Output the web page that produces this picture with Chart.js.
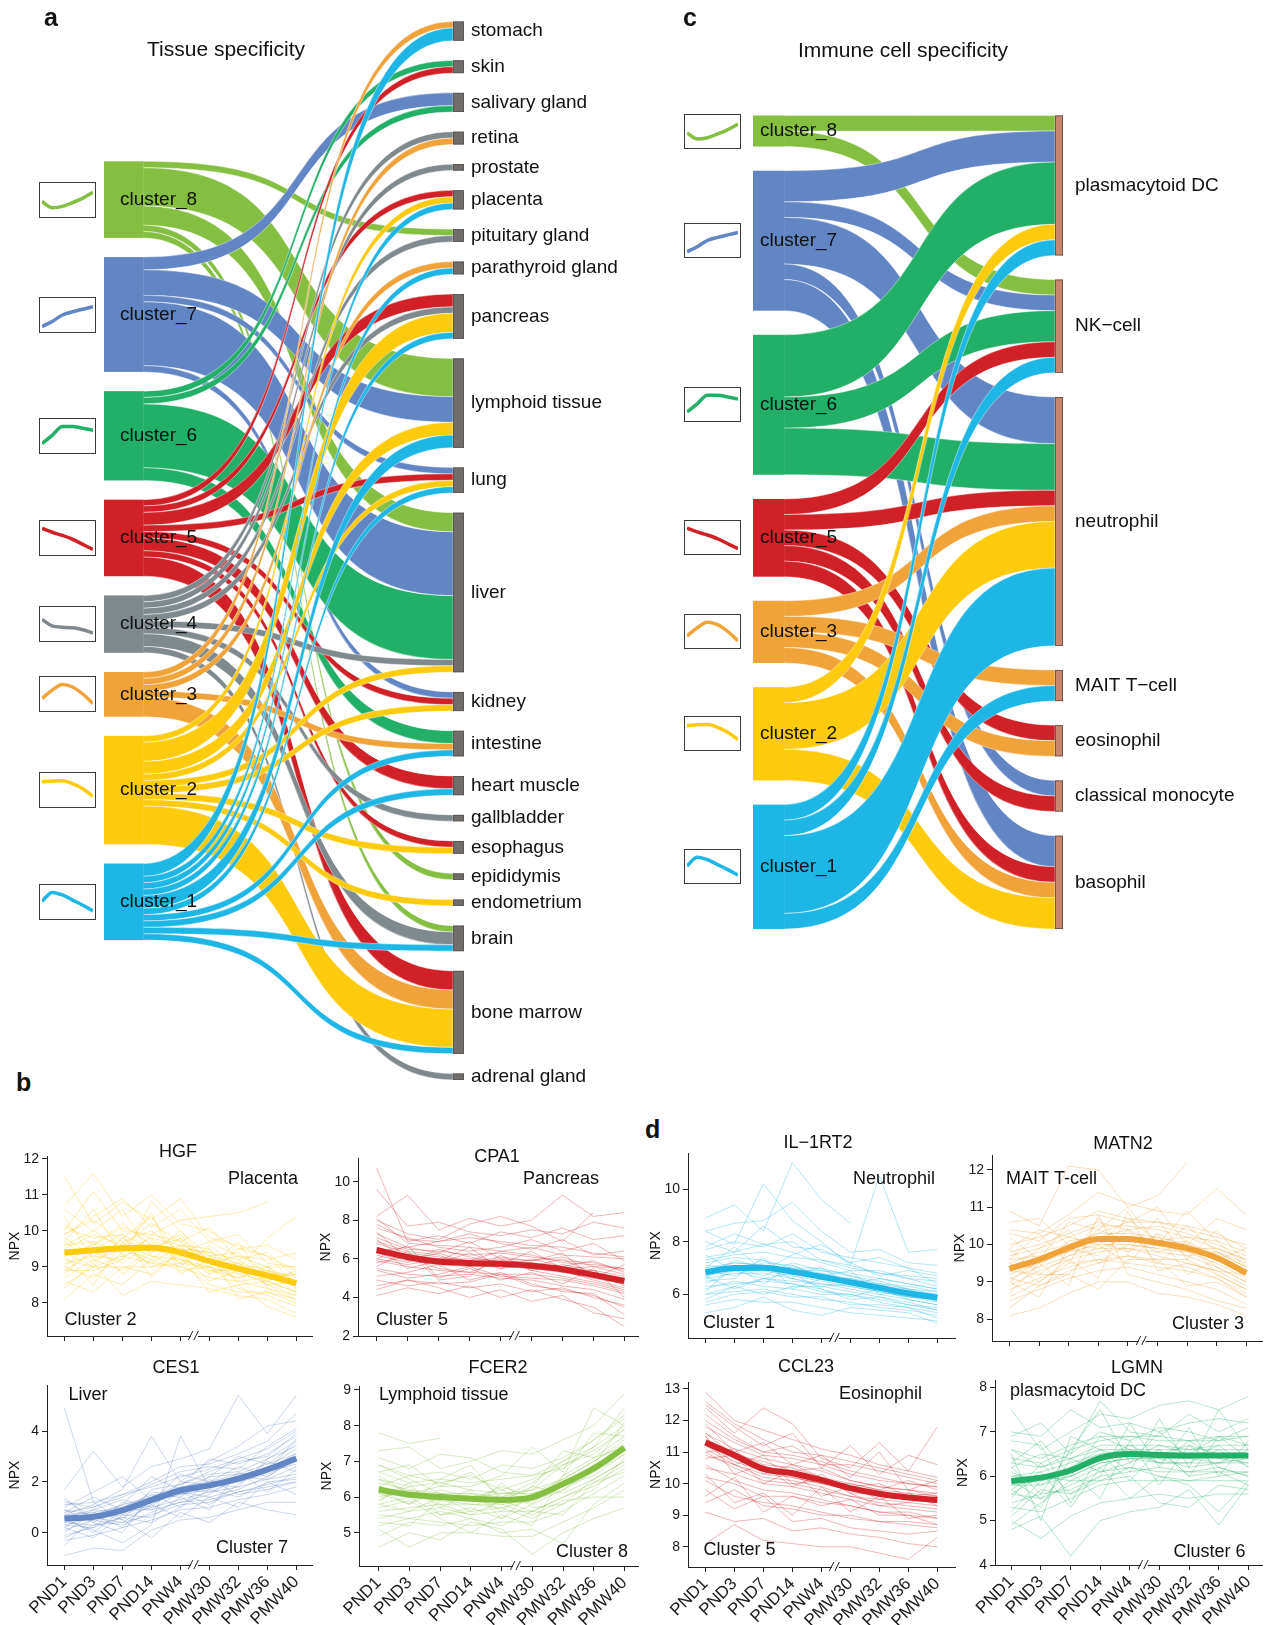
<!DOCTYPE html>
<html>
<head>
<meta charset="utf-8">
<script src="https://cdn.jsdelivr.net/npm/chart.js@4.4.1/dist/chart.umd.min.js"></script>
<style>
  body { margin: 0; background: #fff; }
  #page { position: relative; width: 1266px; height: 1625px; overflow: hidden; background: #fff;
          font-family: 'Liberation Sans', Arial, Helvetica, sans-serif; color: #111; }
  .holder { position: absolute; }
  .letter { position: absolute; font-weight: bold; font-size: 25px; line-height: 25px; }
  .icon { position: absolute; border: 1px solid #3a3a3a; box-sizing: border-box; background: #fff; }
  canvas { display: block; }
</style>
</head>
<body>
<div id="page">
  <div class="letter" style="left:16px;top:1070px;">b</div>
  <div class="letter" style="left:645px;top:1117px;">d</div>
</div>
<script>
// ---------- shared categories ----------
const timeLabels = ['PND1', 'PND3', 'PND7', 'PND14', 'PNW4', 'PMW30', 'PMW32', 'PMW36', 'PMW40'];

const tissueClusters = ['cluster_8', 'cluster_7', 'cluster_6', 'cluster_5', 'cluster_4', 'cluster_3', 'cluster_2', 'cluster_1'];
const tissueNames = ['stomach', 'skin', 'salivary gland', 'retina', 'prostate', 'placenta', 'pituitary gland',
  'parathyroid gland', 'pancreas', 'lymphoid tissue', 'lung', 'liver', 'kidney', 'intestine', 'heart muscle',
  'gallbladder', 'esophagus', 'epididymis', 'endometrium', 'brain', 'bone marrow', 'adrenal gland'];

// number of cluster proteins enriched in each tissue
const tissueFlows = [
  ['cluster_8', 'pituitary gland', 1], ['cluster_8', 'lymphoid tissue', 6], ['cluster_8', 'liver', 3],
  ['cluster_8', 'epididymis', 1], ['cluster_8', 'brain', 1],
  ['cluster_7', 'salivary gland', 2], ['cluster_7', 'lymphoid tissue', 4], ['cluster_7', 'lung', 1],
  ['cluster_7', 'liver', 10], ['cluster_7', 'kidney', 1],
  ['cluster_6', 'skin', 1], ['cluster_6', 'salivary gland', 1], ['cluster_6', 'liver', 10], ['cluster_6', 'intestine', 2],
  ['cluster_5', 'skin', 1], ['cluster_5', 'placenta', 1], ['cluster_5', 'pancreas', 2], ['cluster_5', 'lung', 1],
  ['cluster_5', 'kidney', 1], ['cluster_5', 'heart muscle', 2], ['cluster_5', 'esophagus', 1], ['cluster_5', 'bone marrow', 3],
  ['cluster_4', 'retina', 1], ['cluster_4', 'prostate', 1], ['cluster_4', 'pituitary gland', 1], ['cluster_4', 'pancreas', 1],
  ['cluster_4', 'liver', 1], ['cluster_4', 'gallbladder', 1], ['cluster_4', 'brain', 2], ['cluster_4', 'adrenal gland', 1],
  ['cluster_3', 'stomach', 1], ['cluster_3', 'retina', 1], ['cluster_3', 'parathyroid gland', 1],
  ['cluster_3', 'intestine', 1], ['cluster_3', 'bone marrow', 3],
  ['cluster_2', 'placenta', 1], ['cluster_2', 'pancreas', 3], ['cluster_2', 'lymphoid tissue', 2], ['cluster_2', 'lung', 1],
  ['cluster_2', 'liver', 1], ['cluster_2', 'kidney', 1], ['cluster_2', 'esophagus', 1], ['cluster_2', 'endometrium', 1],
  ['cluster_2', 'bone marrow', 6],
  ['cluster_1', 'stomach', 2], ['cluster_1', 'placenta', 1], ['cluster_1', 'parathyroid gland', 1], ['cluster_1', 'pancreas', 1],
  ['cluster_1', 'lymphoid tissue', 2], ['cluster_1', 'lung', 1], ['cluster_1', 'intestine', 1], ['cluster_1', 'heart muscle', 1],
  ['cluster_1', 'brain', 1], ['cluster_1', 'bone marrow', 1]
];

const immuneClusters = ['cluster_8', 'cluster_7', 'cluster_6', 'cluster_5', 'cluster_3', 'cluster_2', 'cluster_1'];
const immuneCells = ['plasmacytoid DC', 'NK\u2212cell', 'neutrophil', 'MAIT T\u2212cell', 'eosinophil', 'classical monocyte', 'basophil'];

// number of cluster proteins enriched in each immune cell type
const immuneFlows = [
  ['cluster_8', 'plasmacytoid DC', 1], ['cluster_8', 'NK\u2212cell', 1],
  ['cluster_7', 'plasmacytoid DC', 2], ['cluster_7', 'NK\u2212cell', 1], ['cluster_7', 'neutrophil', 3],
  ['cluster_7', 'classical monocyte', 1], ['cluster_7', 'basophil', 2],
  ['cluster_6', 'plasmacytoid DC', 4], ['cluster_6', 'NK\u2212cell', 2], ['cluster_6', 'neutrophil', 3],
  ['cluster_5', 'NK\u2212cell', 1], ['cluster_5', 'neutrophil', 1], ['cluster_5', 'eosinophil', 1],
  ['cluster_5', 'classical monocyte', 1], ['cluster_5', 'basophil', 1],
  ['cluster_3', 'neutrophil', 1], ['cluster_3', 'MAIT T\u2212cell', 1], ['cluster_3', 'eosinophil', 1], ['cluster_3', 'basophil', 1],
  ['cluster_2', 'plasmacytoid DC', 1], ['cluster_2', 'neutrophil', 3], ['cluster_2', 'basophil', 2],
  ['cluster_1', 'plasmacytoid DC', 1], ['cluster_1', 'NK\u2212cell', 1], ['cluster_1', 'neutrophil', 5], ['cluster_1', 'MAIT T\u2212cell', 1]
];

// typical temporal profile of each cluster (relative level, 6 steps)
const trendCluster8 = [0.45, 0.26, 0.30, 0.42, 0.56, 0.74];
const trendCluster7 = [0.14, 0.30, 0.50, 0.60, 0.68, 0.76];
const trendCluster6 = [0.26, 0.52, 0.80, 0.80, 0.74, 0.68];
const trendCluster5 = [0.80, 0.68, 0.58, 0.46, 0.30, 0.14];
const trendCluster4 = [0.64, 0.44, 0.40, 0.38, 0.32, 0.22];
const trendCluster3 = [0.36, 0.62, 0.80, 0.72, 0.50, 0.20];
const trendCluster2 = [0.76, 0.78, 0.79, 0.70, 0.54, 0.30];
const trendCluster1 = [0.52, 0.80, 0.72, 0.56, 0.40, 0.22];
const clusterTrends = {
  cluster_8: trendCluster8, cluster_7: trendCluster7, cluster_6: trendCluster6, cluster_5: trendCluster5,
  cluster_4: trendCluster4, cluster_3: trendCluster3, cluster_2: trendCluster2, cluster_1: trendCluster1
};

// ---------- protein trajectories (NPX) ----------
const hgfMean = [9.40, 9.46, 9.52, 9.53, 9.40, 9.16, 8.95, 8.76, 8.55];
const hgfLines = [
  [11.5, 10.2, 10.8, 10.3, 10.9, 9.8, 9.6, 9.3, 8.9],
  [10.7, 11.6, 10.4, 11.0, 10.2, 10.0, 9.5, 9.6, 9.2],
  [9.9, 10.4, 10.9, 10.1, 10.6, 9.7, 9.9, 9.1, 9.0],
  [9.5, 9.9, 9.6, 10.2, 9.7, 10.1, 9.2, 9.4, 8.7],
  [9.2, 9.0, 9.8, 9.4, 10.0, 9.3, 9.4, 8.8, 8.8],
  [8.9, 9.4, 9.1, 9.7, 9.2, 8.9, 8.7, 9.0, 8.4],
  [8.6, 8.3, 9.0, 8.8, 9.4, 8.6, 8.9, 8.5, 8.2],
  [8.1, 8.8, 8.5, 9.2, 8.9, 9.0, 8.4, 8.2, 7.9],
  [10.2, 9.6, 10.1, 9.8, 9.1, 9.5, 8.8, 8.9, 8.6],
  [9.7, 10.6, 9.3, 9.1, 9.6, 8.8, 9.1, 8.6, 8.3],
  [9.0, 8.7, 9.4, 10.5, 8.8, 9.2, 8.6, 8.7, 8.5],
  [10.4, 9.2, 8.9, 9.5, 9.9, 9.0, 9.7, 8.4, 8.1],
  [8.4, 9.1, 8.2, 8.6, 8.5, 8.4, 8.2, 8.1, 7.7],
  [9.6, 10.0, 10.6, 9.3, 9.0, 9.6, 9.0, 9.8, 10.4],
  [10.0, 11.1, 10.0, 9.9, 10.3, 10.4, 10.5, 10.8, null],
  [9.3, 8.5, 9.7, 9.0, 9.3, 8.3, 8.5, 7.9, 7.6],
  [8.8, 9.5, 9.9, 8.7, 9.5, 9.4, 8.1, 8.3, 8.0],
  [9.8, 9.3, 9.2, 10.8, 10.0, 9.1, 9.3, 9.2, 9.4],
  [9.6, 9.7, 9.4, 9.8, 9.6, 9.3, 9.1, 8.9, 8.7],
  [9.1, 9.3, 9.6, 9.3, 9.2, 9.0, 8.8, 8.6, 8.3],
  [9.4, 9.0, 9.3, 9.6, 9.5, 9.4, 9.2, 8.7, 8.8],
  [10.1, 9.8, 9.9, 9.5, 9.8, 9.2, 9.0, 9.0, 8.6],
  [8.7, 9.2, 9.5, 9.1, 9.0, 8.7, 8.6, 8.4, 8.2],
  [9.9, 10.3, 9.7, 10.0, 9.4, 9.7, 9.3, 9.0, 9.0],
  [9.3, 9.6, 10.2, 9.6, 9.1, 9.0, 8.7, 8.9, 8.4],
  [8.9, 8.9, 9.2, 9.9, 9.7, 9.1, 9.1, 8.5, 8.6],
  [10.6, 10.0, 9.5, 9.2, 9.8, 8.9, 8.9, 8.8, 8.3],
  [9.0, 9.7, 8.8, 9.4, 9.6, 9.5, 8.5, 8.6, 8.9],
  [9.7, 9.1, 9.8, 10.4, 9.3, 8.8, 9.5, 9.3, 8.5],
  [8.5, 9.0, 9.0, 9.0, 9.1, 8.5, 8.3, 8.3, 8.1]
];

const cpa1Mean = [6.46, 6.10, 5.86, 5.78, 5.74, 5.64, 5.46, 5.17, 4.85];
const cpa1Lines = [
  [10.7, 6.9, 7.2, 6.8, 7.4, 7.1, 7.6, 7.0, 7.2],
  [8.2, 9.3, 7.5, 8.1, 7.7, 8.0, 9.3, 8.2, 8.4],
  [7.3, 6.6, 6.9, 7.3, 6.8, 6.5, 7.0, 6.2, 6.4],
  [6.8, 6.3, 6.1, 5.9, 6.4, 6.2, 5.8, 5.7, 5.5],
  [6.2, 5.8, 6.5, 6.1, 5.8, 5.6, 6.0, 5.2, 4.9],
  [5.8, 6.1, 5.5, 5.3, 5.9, 5.8, 5.3, 5.4, 4.6],
  [5.4, 5.0, 5.2, 5.6, 5.1, 5.0, 4.9, 4.6, 4.2],
  [4.9, 4.6, 4.8, 4.5, 4.7, 4.3, 4.5, 4.0, 3.6],
  [4.1, 4.5, 4.2, 4.6, 4.0, 4.4, 3.9, 3.5, 2.5],
  [7.6, 7.1, 6.6, 6.4, 6.6, 7.0, 6.4, 6.8, 5.9],
  [6.5, 5.5, 5.9, 6.6, 5.5, 6.0, 5.6, 5.9, 5.3],
  [5.6, 6.4, 4.9, 5.1, 6.2, 5.4, 5.1, 4.8, 4.4],
  [9.6, 7.7, 7.9, 7.4, 7.2, 7.5, 7.3, 7.9, 7.6],
  [5.1, 5.3, 5.7, 4.9, 5.3, 4.7, 4.3, 4.2, 3.1],
  [7.0, 5.9, 6.3, 6.9, 6.0, 5.9, 6.3, 5.0, 5.7],
  [6.0, 6.7, 5.0, 5.5, 4.9, 5.3, 4.7, 5.5, 4.0],
  [4.4, 4.9, 4.5, 4.0, 4.4, 3.8, 4.1, 3.2, 2.9],
  [8.0, 7.3, 7.0, 7.8, 8.2, 7.7, 6.9, 8.4, null],
  [6.6, 6.2, 6.0, 6.0, 5.9, 5.8, 5.6, 5.3, 5.0],
  [6.3, 5.9, 5.7, 5.6, 5.6, 5.5, 5.3, 5.0, 4.7],
  [7.1, 6.5, 6.4, 6.2, 6.3, 6.1, 5.9, 5.8, 5.4],
  [5.9, 5.6, 5.4, 5.3, 5.2, 5.2, 5.0, 4.7, 4.3],
  [8.1, 6.8, 6.7, 6.6, 6.4, 6.6, 6.2, 6.1, 6.0],
  [6.9, 6.4, 6.2, 5.6, 6.0, 5.4, 5.7, 5.4, 5.1],
  [5.5, 5.2, 5.1, 5.2, 5.0, 4.9, 4.6, 4.4, 3.9],
  [7.4, 6.0, 5.8, 6.3, 5.7, 6.4, 5.5, 5.6, 5.2],
  [6.0, 5.7, 6.0, 5.9, 5.5, 5.7, 5.4, 4.9, 4.5],
  [4.6, 4.9, 4.7, 4.8, 5.2, 4.6, 4.4, 4.1, 3.5],
  [7.8, 7.0, 6.9, 7.1, 6.9, 6.7, 6.6, 6.3, 6.1],
  [6.4, 6.6, 6.3, 5.8, 6.1, 5.9, 6.1, 5.6, 5.5]
];

const ces1Mean = [0.56, 0.63, 0.88, 1.28, 1.66, 1.86, 2.13, 2.48, 2.92];
const ces1Lines = [
  [4.9, 1.2, 1.5, 2.0, 2.6, 2.7, 3.1, 3.6, 4.7],
  [1.7, 3.2, 1.8, 2.6, 2.9, 3.3, 5.4, 3.9, 5.4],
  [1.2, 1.0, 1.5, 1.8, 2.2, 2.5, 2.9, 3.3, 4.0],
  [0.9, 0.7, 1.1, 1.4, 1.9, 2.3, 2.4, 2.9, 3.4],
  [0.6, 0.9, 0.8, 1.6, 1.5, 1.7, 2.2, 2.5, 3.1],
  [0.4, 0.3, 0.6, 1.0, 1.3, 1.6, 1.8, 2.1, 2.6],
  [0.1, 0.5, 0.3, 0.8, 1.2, 1.3, 1.6, 1.9, 2.2],
  [-0.3, -0.1, 0.2, 0.5, 0.9, 1.0, 1.3, 1.5, 1.8],
  [-0.9, -0.6, -0.7, 0.1, 0.5, 0.6, 0.9, 1.2, 1.2],
  [0.8, 1.4, 0.9, 1.2, 2.3, 2.0, 2.6, 2.2, 3.0],
  [0.3, 0.2, 1.2, 0.9, 1.6, 1.1, 1.9, 2.8, 2.4],
  [1.4, 0.4, 0.0, 1.5, 1.0, 2.1, 1.5, 1.7, 2.0],
  [0.0, 0.8, 0.5, -0.2, 0.8, 0.4, 1.2, 0.9, 0.7],
  [0.7, 1.1, 1.7, 3.8, 2.0, 2.8, 3.4, 4.2, 4.4],
  [0.5, 0.1, -0.4, 0.3, 3.8, 1.8, 2.0, 2.4, 3.7],
  [-0.5, 0.6, 0.4, 1.1, 0.6, 1.4, 1.0, 2.0, 1.5],
  [1.0, 1.6, 2.2, 1.3, 1.8, 2.9, 2.7, 3.1, 3.8],
  [0.2, -0.2, 0.7, 0.6, 1.4, 0.9, 2.4, 1.6, 2.5],
  [0.7, 0.8, 1.0, 1.4, 1.8, 2.0, 2.3, 2.7, 3.1],
  [0.5, 0.5, 0.8, 1.2, 1.5, 1.8, 2.0, 2.3, 2.8],
  [0.3, 0.6, 0.7, 1.1, 1.7, 1.6, 2.1, 2.6, 3.3],
  [0.9, 0.4, 1.0, 1.5, 1.4, 2.2, 2.3, 2.4, 2.7],
  [0.2, 0.9, 1.3, 1.0, 2.0, 1.9, 1.8, 2.9, 3.6],
  [1.1, 1.2, 0.5, 1.7, 1.9, 2.4, 2.8, 3.0, 3.9],
  [0.6, 0.0, 0.9, 0.9, 1.2, 1.5, 2.2, 2.1, 2.3],
  [-0.2, 0.3, 0.4, 0.7, 1.1, 1.2, 1.6, 1.8, 2.0],
  [0.8, 1.0, 1.4, 1.9, 2.4, 2.6, 2.5, 3.4, 4.1],
  [0.4, 0.7, 0.2, 1.3, 1.6, 1.4, 1.7, 2.2, 2.9],
  [1.3, 0.6, 1.1, 2.2, 1.7, 2.2, 3.0, 2.7, 3.5],
  [-0.1, 0.2, 0.6, 0.4, 1.0, 1.7, 1.4, 2.0, 2.1]
];

const fcer2Mean = [6.21, 6.07, 6.00, 5.95, 5.92, 6.00, 6.37, 6.80, 7.38];
const fcer2Lines = [
  [7.8, 7.5, 7.65, null, null, null, null, null, null],
  [7.3, 7.4, 6.8, 7.0, 7.3, 7.2, 7.6, 8.0, 8.9],
  [6.9, 6.6, 6.7, 6.5, 6.9, 6.8, 7.1, 7.6, 8.3],
  [6.5, 6.3, 6.4, 6.6, 6.2, 6.5, 6.9, 7.3, 7.9],
  [6.3, 6.0, 6.1, 6.0, 6.1, 6.1, 6.5, 7.0, 7.6],
  [6.0, 6.2, 5.8, 5.8, 5.7, 5.9, 6.2, 6.7, 7.2],
  [5.8, 5.6, 5.7, 5.5, 5.6, 5.6, 6.0, 6.4, 6.9],
  [5.5, 5.4, 5.3, 5.2, 5.3, 5.3, 5.6, 6.1, 6.6],
  [5.1, 4.6, 5.0, 5.0, 4.9, 4.9, 5.3, 5.7, 6.2],
  [4.6, 5.0, 4.8, 5.3, 5.1, 4.4, 5.0, 5.4, 5.7],
  [6.7, 6.9, 6.3, 6.3, 6.6, 7.4, 6.7, 8.5, 8.0],
  [6.1, 5.8, 6.5, 6.9, 5.9, 6.3, 7.3, 7.1, 7.4],
  [5.9, 6.4, 5.5, 5.6, 6.4, 5.7, 5.8, 6.5, 7.0],
  [5.3, 5.2, 5.9, 6.2, 5.4, 6.1, 6.3, 6.9, 8.1],
  [6.6, 6.1, 6.0, 5.9, 5.8, 5.5, 5.9, 6.0, 6.0],
  [5.7, 5.9, 5.4, 5.0, 5.5, 5.2, 6.6, 7.8, 7.7],
  [7.1, 6.8, 7.2, 7.1, 6.7, 6.6, 7.0, 7.4, 8.5],
  [4.9, 5.3, 5.2, 5.4, 5.0, 5.1, 4.7, 5.8, 6.4],
  [6.4, 6.2, 6.1, 6.1, 6.0, 6.2, 6.5, 7.0, 7.5],
  [6.1, 6.0, 5.9, 5.8, 5.8, 5.9, 6.3, 6.6, 7.2],
  [6.2, 5.8, 6.2, 6.0, 6.2, 5.8, 6.6, 7.1, 7.7],
  [5.9, 6.3, 5.7, 6.1, 5.6, 6.3, 6.1, 6.5, 7.0],
  [6.7, 6.4, 6.5, 6.4, 6.5, 6.6, 6.8, 7.4, 8.0],
  [5.6, 5.7, 5.8, 5.5, 5.9, 5.6, 6.0, 6.3, 6.8],
  [6.5, 6.1, 6.3, 6.7, 6.0, 6.4, 7.0, 7.6, 8.2],
  [5.8, 6.0, 5.5, 5.7, 5.4, 5.8, 6.2, 6.8, 7.4],
  [6.9, 6.5, 6.1, 5.9, 6.3, 6.0, 6.4, 6.9, 7.3],
  [5.4, 5.6, 6.0, 5.6, 5.7, 5.4, 5.8, 6.2, 7.1],
  [6.3, 6.6, 6.4, 6.2, 6.1, 6.2, 6.9, 7.2, 7.9],
  [5.2, 5.4, 5.6, 5.4, 5.2, 5.6, 5.5, 6.4, 6.7]
];

const il1rt2Mean = [6.84, 7.00, 7.01, 6.86, 6.67, 6.46, 6.25, 6.04, 5.87];
const il1rt2Lines = [
  [8.9, 9.4, 8.4, 11.0, 9.6, 8.7, null, null, null],
  [8.4, 8.7, 8.8, 9.5, 8.4, 7.6, 7.7, 7.2, 7.1],
  [7.7, 8.0, 7.8, 8.3, 7.6, 7.4, 7.2, 7.0, 6.8],
  [7.3, 7.5, 7.6, 7.4, 7.3, 7.0, 6.8, 6.6, 6.5],
  [6.9, 7.2, 7.1, 6.9, 6.9, 6.7, 6.4, 6.3, 6.1],
  [6.6, 6.8, 6.8, 6.6, 6.4, 6.3, 6.1, 5.9, 5.8],
  [6.3, 6.4, 6.5, 6.4, 6.1, 6.0, 5.8, 5.6, 5.5],
  [6.0, 6.1, 6.2, 6.0, 5.8, 5.7, 5.5, 5.4, 5.2],
  [5.6, 5.8, 5.7, 5.7, 5.5, 5.3, 5.2, 5.1, 5.0],
  [7.0, 7.8, 6.9, 7.5, 7.9, 7.2, 6.7, 6.9, 6.7],
  [6.5, 6.6, 7.4, 6.2, 6.6, 6.6, 6.3, 6.2, 5.7],
  [7.5, 6.9, 7.3, 7.0, 7.0, 6.4, 6.6, 6.4, 6.2],
  [5.8, 6.3, 6.0, 6.3, 6.3, 6.1, 5.9, 5.7, 5.4],
  [6.1, 7.1, 6.4, 7.1, 6.7, 6.9, 6.0, 6.1, 5.9],
  [8.0, 7.6, 8.6, 7.8, 7.7, 7.2, 7.4, 7.0, 6.4],
  [5.3, 5.5, 5.9, 5.4, 5.2, 5.5, 5.4, 5.3, 4.9],
  [8.4, 7.9, 10.2, 8.8, 8.0, 7.1, 10.5, 7.6, 7.7],
  [6.7, 6.2, 6.6, 6.8, 6.2, 5.9, 6.2, 5.8, 5.6],
  [7.0, 7.2, 7.1, 7.0, 6.8, 6.6, 6.4, 6.2, 6.0],
  [6.7, 6.9, 6.9, 6.7, 6.5, 6.3, 6.1, 5.9, 5.7],
  [6.9, 6.7, 7.2, 7.1, 6.6, 6.5, 6.3, 6.1, 6.0],
  [7.2, 7.4, 7.3, 6.8, 7.0, 6.7, 6.5, 6.2, 6.1],
  [6.4, 6.9, 6.6, 6.5, 6.4, 6.2, 6.0, 5.8, 5.6],
  [7.4, 7.6, 7.9, 7.6, 7.2, 6.9, 6.9, 6.6, 6.3],
  [6.2, 6.5, 6.3, 6.2, 6.0, 6.0, 5.7, 5.5, 5.3],
  [7.1, 7.0, 6.7, 7.2, 6.9, 6.8, 6.6, 6.4, 6.2],
  [6.6, 7.3, 7.0, 6.6, 6.3, 6.4, 6.2, 5.9, 5.8],
  [7.8, 8.3, 7.9, 8.0, 7.3, 7.1, 6.8, 6.7, 6.6],
  [6.0, 6.3, 6.6, 6.4, 6.2, 5.8, 5.9, 5.6, 5.4],
  [5.7, 6.0, 6.1, 5.9, 5.9, 5.6, 5.6, 5.5, 5.1]
];

const matn2Mean = [9.36, 9.60, 9.91, 10.15, 10.15, 10.05, 9.90, 9.65, 9.24];
const matn2Lines = [
  [10.9, 10.5, 12.1, 12.0, 11.0, 11.3, 12.2, null, null],
  [10.4, 10.3, 10.8, 11.4, 11.1, 10.9, 10.8, 11.5, 10.8],
  [10.0, 10.2, 10.5, 10.9, 10.7, 10.6, 10.4, 10.2, 10.0],
  [9.7, 9.9, 10.2, 10.5, 10.5, 10.4, 10.2, 9.9, 9.6],
  [9.4, 9.6, 9.9, 10.2, 10.2, 10.1, 9.9, 9.7, 9.3],
  [9.1, 9.4, 9.7, 9.9, 9.9, 9.8, 9.7, 9.4, 9.0],
  [8.8, 9.1, 9.4, 9.6, 9.7, 9.5, 9.4, 9.1, 8.7],
  [8.5, 8.8, 9.1, 9.3, 9.4, 9.2, 9.0, 8.8, 8.4],
  [8.1, 8.3, 8.7, 9.0, 9.0, 8.7, 8.6, 8.4, 8.1],
  [10.2, 9.6, 10.6, 10.4, 11.0, 10.0, 10.9, 10.1, 9.8],
  [9.6, 10.3, 9.5, 10.7, 9.8, 10.7, 9.6, 10.4, 9.5],
  [9.0, 8.6, 9.9, 9.7, 10.4, 9.5, 10.1, 9.2, 8.8],
  [9.9, 9.2, 9.2, 10.0, 9.5, 10.3, 9.2, 9.6, 9.9],
  [8.7, 9.5, 8.9, 10.8, 9.2, 9.0, 8.8, 8.5, 8.3],
  [9.3, 9.9, 10.4, 9.5, 10.0, 9.9, 10.5, 9.8, 9.4],
  [8.3, 8.9, 9.2, 8.8, 9.6, 9.6, 8.9, 9.0, 8.6],
  [10.6, 10.7, 10.0, 10.3, 10.6, 11.0, 10.0, 10.7, 10.4],
  [9.5, 9.0, 9.6, 9.1, 10.9, 9.3, 9.5, 9.3, 9.2],
  [9.5, 9.8, 10.0, 10.3, 10.3, 10.2, 10.0, 9.8, 9.4],
  [9.2, 9.5, 9.8, 10.0, 10.0, 9.9, 9.8, 9.5, 9.1],
  [9.4, 9.4, 10.1, 10.2, 10.4, 10.0, 10.1, 9.6, 9.3],
  [9.8, 10.0, 10.3, 10.6, 10.4, 10.5, 10.3, 10.0, 9.7],
  [8.9, 9.3, 9.6, 9.8, 9.9, 9.7, 9.5, 9.3, 8.9],
  [9.6, 9.7, 9.8, 10.4, 10.1, 10.2, 9.7, 9.8, 9.5],
  [9.0, 9.6, 10.0, 9.9, 10.2, 9.8, 10.0, 9.4, 9.0],
  [10.3, 10.1, 10.7, 10.8, 10.6, 10.6, 10.5, 10.3, 9.9],
  [8.6, 9.0, 9.5, 9.6, 9.5, 9.4, 9.3, 9.1, 8.6],
  [9.3, 9.2, 9.7, 10.1, 9.8, 10.3, 9.9, 9.9, 9.6],
  [9.9, 10.4, 10.2, 10.0, 10.7, 10.1, 10.2, 10.1, 9.4],
  [9.1, 8.9, 9.3, 9.5, 9.7, 9.6, 9.6, 9.2, 8.8]
];

const ccl23Mean = [11.30, 10.90, 10.47, 10.33, 10.11, 9.86, 9.68, 9.56, 9.48];
const ccl23Lines = [
  [12.9, 12.0, 11.7, 11.4, 11.1, 10.9, 10.6, 10.4, 10.2],
  [12.4, 11.6, 12.4, 11.9, 10.8, 10.5, 11.3, 10.4, 11.8],
  [12.0, 11.4, 11.0, 10.9, 10.7, 10.4, 10.2, 10.0, 9.9],
  [11.6, 11.1, 10.8, 10.6, 10.4, 10.1, 9.9, 9.8, 9.7],
  [11.3, 10.8, 10.4, 10.3, 10.1, 9.8, 9.7, 9.6, 9.5],
  [11.0, 10.5, 10.1, 10.0, 9.8, 9.6, 9.4, 9.3, 9.2],
  [10.6, 10.1, 9.8, 9.7, 9.5, 9.3, 9.1, 9.0, 8.9],
  [10.1, 9.6, 9.4, 9.3, 9.1, 8.9, 8.8, 8.7, 8.6],
  [9.1, 8.8, 8.9, 8.5, 8.6, 8.4, 8.3, 8.1, 8.0],
  [8.1, 8.7, 8.2, 8.1, 8.0, 8.0, 7.8, 7.6, 8.3],
  [11.9, 11.0, 11.3, 10.6, 10.9, 10.2, 11.0, 9.8, 10.1],
  [10.8, 10.9, 10.0, 10.4, 9.6, 9.9, 9.5, 9.7, 9.3],
  [11.5, 10.3, 10.6, 9.9, 10.3, 9.7, 9.3, 9.4, 9.6],
  [9.6, 10.2, 9.1, 9.6, 9.3, 9.5, 9.0, 9.0, 8.7],
  [12.5, 11.8, 11.2, 11.6, 10.5, 11.2, 10.3, 10.9, 10.6],
  [10.3, 9.4, 9.7, 9.0, 9.9, 9.1, 9.6, 8.9, 9.0],
  [11.1, 10.6, 10.3, 10.2, 10.0, 10.0, 9.8, 10.1, 9.8],
  [9.8, 9.2, 9.6, 8.8, 8.9, 8.6, 8.5, 8.4, 8.5],
  [11.4, 11.0, 10.6, 10.5, 10.2, 10.0, 9.8, 9.7, 9.6],
  [11.2, 10.7, 10.4, 10.2, 10.0, 9.8, 9.6, 9.5, 9.4],
  [11.8, 11.3, 10.9, 10.8, 10.6, 10.3, 10.1, 10.0, 9.9],
  [10.9, 10.6, 10.2, 10.1, 9.9, 9.6, 9.5, 9.4, 9.3],
  [12.2, 11.5, 11.0, 11.2, 10.6, 10.6, 10.4, 10.2, 10.0],
  [10.5, 10.3, 10.0, 9.9, 9.7, 9.5, 9.3, 9.2, 9.1],
  [11.6, 10.9, 10.7, 10.4, 10.5, 10.1, 9.9, 9.8, 9.6],
  [11.0, 11.1, 10.3, 10.6, 10.2, 9.7, 9.7, 9.5, 9.5],
  [12.6, 11.9, 11.4, 11.0, 10.9, 10.7, 10.5, 10.3, 10.1],
  [10.2, 10.0, 9.6, 9.6, 9.4, 9.3, 9.1, 9.1, 8.9],
  [11.5, 10.6, 10.9, 10.0, 10.1, 9.9, 10.0, 9.6, 9.7],
  [9.4, 9.8, 9.3, 9.2, 9.0, 9.0, 8.8, 8.8, 8.7]
];

const lgmnMean = [5.89, 5.97, 6.13, 6.41, 6.50, 6.48, 6.47, 6.47, 6.47];
const lgmnLines = [
  [7.5, 6.6, 7.0, 7.4, 7.3, 7.6, 7.7, 7.5, 7.8],
  [7.0, 6.9, 7.5, 7.1, 7.2, 7.0, 7.2, 7.3, 7.2],
  [6.6, 6.4, 6.7, 6.9, 6.9, 6.9, 6.8, 6.9, 6.9],
  [6.3, 6.2, 6.4, 6.7, 6.7, 6.7, 6.6, 6.7, 6.7],
  [6.0, 6.0, 6.2, 6.5, 6.5, 6.5, 6.5, 6.5, 6.5],
  [5.8, 5.8, 6.0, 6.3, 6.4, 6.3, 6.3, 6.3, 6.3],
  [5.6, 5.5, 5.8, 6.1, 6.2, 6.1, 6.1, 6.1, 6.1],
  [5.3, 5.2, 5.5, 5.8, 5.9, 5.9, 5.9, 5.9, 5.9],
  [5.0, 4.6, 5.1, 5.4, 5.5, 5.6, 5.5, 5.6, 5.6],
  [4.8, 5.1, 4.2, 5.0, 5.2, 5.3, 5.7, 4.9, 5.8],
  [6.2, 5.6, 6.6, 7.5, 6.3, 7.0, 6.4, 6.7, 6.2],
  [5.5, 6.3, 5.6, 6.0, 7.2, 6.2, 7.1, 6.0, 6.8],
  [6.8, 6.7, 5.4, 6.5, 5.9, 6.6, 6.0, 6.9, 6.4],
  [5.2, 5.9, 6.1, 5.5, 6.8, 5.8, 6.7, 6.2, 6.0],
  [6.5, 5.0, 6.9, 6.6, 6.1, 7.3, 6.2, 7.5, 6.6],
  [5.7, 6.1, 5.3, 6.2, 5.5, 6.0, 5.8, 5.2, 5.9],
  [6.9, 7.2, 6.5, 7.7, 7.0, 6.9, 7.4, 7.0, 7.3],
  [4.9, 5.4, 5.9, 5.9, 6.0, 5.4, 5.3, 5.8, 5.7],
  [6.0, 6.1, 6.3, 6.5, 6.6, 6.6, 6.6, 6.6, 6.6],
  [5.8, 5.9, 6.0, 6.3, 6.4, 6.4, 6.4, 6.3, 6.4],
  [6.1, 5.8, 6.2, 6.6, 6.6, 6.5, 6.7, 6.5, 6.5],
  [5.6, 6.0, 5.9, 6.2, 6.5, 6.3, 6.3, 6.6, 6.2],
  [6.4, 6.3, 6.6, 6.8, 6.9, 6.8, 6.8, 6.8, 6.9],
  [5.4, 5.6, 5.7, 6.0, 6.1, 6.2, 6.1, 6.2, 6.0],
  [6.2, 6.5, 6.4, 6.6, 6.4, 6.7, 6.5, 6.9, 6.7],
  [5.9, 5.5, 6.1, 6.4, 6.7, 6.4, 6.2, 6.3, 6.6],
  [6.6, 6.2, 6.5, 7.0, 6.8, 7.1, 7.0, 6.8, 7.1],
  [5.1, 5.7, 5.6, 5.9, 6.2, 6.0, 5.9, 6.0, 6.1],
  [6.3, 6.8, 6.0, 6.9, 6.6, 6.3, 6.8, 6.4, 6.3],
  [5.7, 5.3, 6.4, 6.1, 6.3, 6.6, 6.0, 6.1, 5.8]
];

// ---------- styles ----------
const FONT = "'Liberation Sans', Arial, Helvetica, sans-serif";
const INK = '#111';
const clusterColors = {
  cluster_1: '#1eb6e4', cluster_2: '#fdca0c', cluster_3: '#efa339', cluster_4: '#7f8a8f',
  cluster_5: '#cf2127', cluster_6: '#22b068', cluster_7: '#6285c4', cluster_8: '#85bf41'
};
function rgba(hex, a) {
  const n = parseInt(hex.slice(1), 16);
  return `rgba(${(n >> 16) & 255},${(n >> 8) & 255},${n & 255},${a})`;
}
Chart.defaults.font.family = FONT;
Chart.defaults.color = INK;

const page = document.getElementById('page');
function addCanvas(left, top, w, h) {
  const div = document.createElement('div');
  div.className = 'holder';
  div.style.cssText = `left:${left}px;top:${top}px;width:${w}px;height:${h}px;`;
  const cv = document.createElement('canvas');
  cv.width = w; cv.height = h;
  cv.style.width = w + 'px'; cv.style.height = h + 'px';
  div.appendChild(cv);
  page.appendChild(div);
  return cv;
}

// ---------- alluvial (sankey) panels ----------
function alluvialLayout(spec) {
  const srcTot = {}, tgtTot = {};
  spec.flows.forEach(([s, t, v]) => {
    srcTot[s] = (srcTot[s] || 0) + v;
    tgtTot[t] = (tgtTot[t] || 0) + v;
  });
  const stack = (names, tot, gap) => {
    const total = names.reduce((a, n) => a + tot[n], 0) + gap * (names.length - 1);
    let y = spec.center - total / 2;
    const pos = {};
    names.forEach(n => { pos[n] = { y0: y, y1: y + tot[n] }; y += tot[n] + gap; });
    return pos;
  };
  const L = stack(spec.sources, srcTot, spec.gapLeft);
  const R = stack(spec.targets, tgtTot, spec.gapRight);
  const si = n => spec.sources.indexOf(n);
  const ti = n => spec.targets.indexOf(n);
  const links = spec.flows.map(([s, t, v]) => ({ s, t, v }));
  const lc = {}, rc = {};
  links.slice().sort((a, b) => si(a.s) - si(b.s) || ti(a.t) - ti(b.t)).forEach(f => {
    const c = lc[f.s] !== undefined ? lc[f.s] : L[f.s].y0;
    f.l0 = c; f.l1 = c + f.v; lc[f.s] = f.l1;
  });
  links.slice().sort((a, b) => ti(a.t) - ti(b.t) || si(a.s) - si(b.s)).forEach(f => {
    const c = rc[f.t] !== undefined ? rc[f.t] : R[f.t].y0;
    f.r0 = c; f.r1 = c + f.v; rc[f.t] = f.r1;
  });
  return { L, R, links, si };
}

function alluvialPlugin(spec, lay) {
  return {
    id: 'alluvial',
    afterDatasetsDraw(chart) {
      const ctx = chart.ctx, xs = chart.scales.x, ys = chart.scales.y;
      const X = v => xs.getPixelForValue(v), Y = v => ys.getPixelForValue(v);
      ctx.save();
      const x0 = X(spec.blockX[1]), x1 = X(spec.barX[0]);
      // control points pulled past the midpoint give the steep, straight middle section of the ribbons
      const c0 = x0 + spec.bend * (x1 - x0), c1 = x1 - spec.bend * (x1 - x0);
      // ribbons, upper clusters first so lower clusters lie on top
      lay.links.slice().sort((a, b) => lay.si(a.s) - lay.si(b.s)).forEach(f => {
        const a0 = Y(f.l0), a1 = Y(f.l1), b0 = Y(f.r0), b1 = Y(f.r1);
        ctx.beginPath();
        ctx.moveTo(x0, a0);
        ctx.bezierCurveTo(c0, a0, c1, b0, x1, b0);
        ctx.lineTo(x1, b1);
        ctx.bezierCurveTo(c1, b1, c0, a1, x0, a1);
        ctx.closePath();
        ctx.fillStyle = clusterColors[f.s];
        ctx.fill();
        ctx.lineWidth = 0.5;
        ctx.strokeStyle = 'rgba(255,255,255,0.85)';
        ctx.stroke();
      });
      // cluster strata
      spec.sources.forEach(n => {
        const p = lay.L[n];
        ctx.fillStyle = clusterColors[n];
        ctx.fillRect(X(spec.blockX[0]), Y(p.y0), X(spec.blockX[1]) - X(spec.blockX[0]) + 0.5, Y(p.y1) - Y(p.y0));
      });
      // target strata
      spec.targets.forEach(n => {
        const p = lay.R[n];
        ctx.fillStyle = spec.barFill;
        ctx.fillRect(X(spec.barX[0]), Y(p.y0), X(spec.barX[1]) - X(spec.barX[0]), Y(p.y1) - Y(p.y0));
        ctx.strokeStyle = spec.barStroke;
        ctx.lineWidth = 0.8;
        ctx.strokeRect(X(spec.barX[0]) + 0.4, Y(p.y0) + 0.4, X(spec.barX[1]) - X(spec.barX[0]) - 0.8, Y(p.y1) - Y(p.y0) - 0.8);
      });
      // labels
      ctx.fillStyle = INK;
      ctx.textBaseline = 'middle';
      ctx.textAlign = 'left';
      ctx.font = `19px ${FONT}`;
      spec.sources.forEach(n => {
        const p = lay.L[n];
        ctx.fillText(n, X(spec.clusterLabelX), Y((p.y0 + p.y1) / 2));
      });
      spec.targets.forEach(n => {
        const p = lay.R[n];
        ctx.fillText(n, X(spec.labelX), Y((p.y0 + p.y1) / 2));
      });
      ctx.textAlign = 'center';
      ctx.font = `21px ${FONT}`;
      ctx.fillText(spec.title, spec.titleX, spec.titleY);
      ctx.font = `bold 25px ${FONT}`;
      ctx.fillText(spec.letter, spec.letterX, spec.letterY);
      ctx.restore();
    }
  };
}

function makeIcon(x, y, w, h, cluster) {
  const div = document.createElement('div');
  div.className = 'icon';
  div.style.cssText = `left:${x}px;top:${y}px;width:${w}px;height:${h}px;`;
  const cv = document.createElement('canvas');
  cv.width = w - 2; cv.height = h - 2;
  cv.style.width = (w - 2) + 'px'; cv.style.height = (h - 2) + 'px';
  div.appendChild(cv);
  page.appendChild(div);
  const trend = clusterTrends[cluster];
  new Chart(cv, {
    type: 'line',
    data: { datasets: [{ data: trend.map((v, i) => ({ x: i, y: v })), borderColor: clusterColors[cluster],
      borderWidth: 3.5, pointRadius: 0, cubicInterpolationMode: 'monotone', fill: false }] },
    options: {
      responsive: false, animation: false, devicePixelRatio: 1,
      layout: { padding: { left: 2, right: 2, top: 1, bottom: 1 } },
      plugins: { legend: { display: false }, tooltip: { enabled: false } },
      scales: { x: { type: 'linear', display: false, min: 0, max: 5 }, y: { display: false, min: 0, max: 1 } }
    }
  });
}

function makeAlluvial(spec) {
  const lay = alluvialLayout(spec);
  const cv = addCanvas(spec.left, spec.top, spec.width, spec.height);
  const chart = new Chart(cv, {
    type: 'scatter',
    data: { datasets: [{ data: [] }] },
    options: {
      responsive: false, animation: false, devicePixelRatio: 1,
      layout: { padding: 0 },
      plugins: { legend: { display: false }, tooltip: { enabled: false } },
      scales: {
        x: { type: 'linear', min: 0, max: spec.width, display: false },
        y: { type: 'linear', min: 0, max: spec.height / spec.pxPerUnit, reverse: true, display: false }
      }
    },
    plugins: [alluvialPlugin(spec, lay)]
  });
  spec.sources.forEach(n => {
    const p = lay.L[n];
    const cy = chart.scales.y.getPixelForValue((p.y0 + p.y1) / 2) + spec.top;
    makeIcon(spec.left + spec.iconX[0], Math.round(cy - spec.iconH / 2), spec.iconX[1] - spec.iconX[0], spec.iconH, n);
  });
}

makeAlluvial({
  sources: tissueClusters, targets: tissueNames, flows: tissueFlows,
  left: 0, top: 0, width: 633, height: 1090, pxPerUnit: 6.38, gapLeft: 3.01, gapRight: 3.09, center: 86.32,
  blockX: [104, 143], barX: [453, 464], labelX: 471, clusterLabelX: 120, bend: 0.63,
  iconX: [39, 96], iconH: 36, barFill: '#716d6b', barStroke: '#57524f',
  title: 'Tissue specificity', titleX: 226, titleY: 50, letter: 'a', letterX: 51, letterY: 19
});

makeAlluvial({
  sources: immuneClusters, targets: immuneCells, flows: immuneFlows,
  left: 633, top: 0, width: 633, height: 950, pxPerUnit: 15.55, gapLeft: 1.553, gapRight: 1.553, center: 33.585,
  blockX: [120, 150.7], barX: [422, 430], labelX: 442, clusterLabelX: 127, bend: 0.6,
  iconX: [51, 108], iconH: 35, barFill: '#c9866f', barStroke: '#5d4a44',
  title: 'Immune cell specificity', titleX: 270, titleY: 51, letter: 'c', letterX: 57, letterY: 19
});

// ---------- trajectory panels ----------
const trajectoryPanels = [
  { title: 'HGF', tissue: 'Placenta', cluster: 'Cluster 2', key: 'cluster_2', mean: hgfMean, lines: hgfLines,
    yTicks: [8, 9, 10, 11, 12], L: 47, T: 1156, R: 312, B: 1336, yMin: 7.08, yMax: 12.08, xMin: -0.6, xMax: 8.54,
    titleX: 178, titleY: 1152, tag: { x: 298, y: 1179, align: 'right' }, tag2: { x: 64.5, y: 1320, align: 'left' }, showX: false },
  { title: 'CPA1', tissue: 'Pancreas', cluster: 'Cluster 5', key: 'cluster_5', mean: cpa1Mean, lines: cpa1Lines,
    yTicks: [2, 4, 6, 8, 10], L: 358, T: 1158, R: 638, B: 1336, yMin: 2, yMax: 11.23, xMin: -0.6, xMax: 8.44,
    titleX: 497, titleY: 1157, tag: { x: 599, y: 1179, align: 'right' }, tag2: { x: 376, y: 1320, align: 'left' }, showX: false },
  { title: 'CES1', tissue: 'Liver', cluster: 'Cluster 7', key: 'cluster_7', mean: ces1Mean, lines: ces1Lines,
    yTicks: [0, 2, 4], L: 47, T: 1385, R: 312, B: 1565, yMin: -1.27, yMax: 5.81, xMin: -0.6, xMax: 8.54,
    titleX: 176, titleY: 1368, tag: { x: 68.6, y: 1395, align: 'left' }, tag2: { x: 288, y: 1548, align: 'right' }, showX: true },
  { title: 'FCER2', tissue: 'Lymphoid tissue', cluster: 'Cluster 8', key: 'cluster_8', mean: fcer2Mean, lines: fcer2Lines,
    yTicks: [5, 6, 7, 8, 9], L: 359, T: 1386, R: 638, B: 1566, yMin: 4.07, yMax: 9.11, xMin: -0.64, xMax: 8.44,
    titleX: 498, titleY: 1368, tag: { x: 379, y: 1395, align: 'left' }, tag2: { x: 628, y: 1552, align: 'right' }, showX: true },
  { title: 'IL\u22121RT2', tissue: 'Neutrophil', cluster: 'Cluster 1', key: 'cluster_1', mean: il1rt2Mean, lines: il1rt2Lines,
    yTicks: [6, 8, 10], L: 688, T: 1153, R: 955, B: 1338, yMin: 4.34, yMax: 11.37, xMin: -0.6, xMax: 8.61,
    titleX: 818, titleY: 1143, tag: { x: 935, y: 1179, align: 'right' }, tag2: { x: 703, y: 1323, align: 'left' }, showX: false },
  { title: 'MATN2', tissue: 'MAIT T-cell', cluster: 'Cluster 3', key: 'cluster_3', mean: matn2Mean, lines: matn2Lines,
    yTicks: [8, 9, 10, 11, 12], L: 992, T: 1155, R: 1262, B: 1341, yMin: 7.42, yMax: 12.4, xMin: -0.59, xMax: 8.53,
    titleX: 1123, titleY: 1144, tag: { x: 1006, y: 1179, align: 'left' }, tag2: { x: 1244, y: 1324, align: 'right' }, showX: false },
  { title: 'CCL23', tissue: 'Eosinophil', cluster: 'Cluster 5', key: 'cluster_5', mean: ccl23Mean, lines: ccl23Lines,
    yTicks: [8, 9, 10, 11, 12, 13], L: 688, T: 1382, R: 955, B: 1567, yMin: 7.36, yMax: 13.22, xMin: -0.6, xMax: 8.61,
    titleX: 806, titleY: 1367, tag: { x: 922, y: 1394, align: 'right' }, tag2: { x: 703.6, y: 1550, align: 'left' }, showX: true },
  { title: 'LGMN', tissue: 'plasmacytoid DC', cluster: 'Cluster 6', key: 'cluster_6', mean: lgmnMean, lines: lgmnLines,
    yTicks: [4, 5, 6, 7, 8], L: 995, T: 1380, R: 1262, B: 1565, yMin: 4, yMax: 8.17, xMin: -0.55, xMax: 8.46,
    titleX: 1137, titleY: 1368, tag: { x: 1010, y: 1391, align: 'left' }, tag2: { x: 1245.5, y: 1552, align: 'right' }, showX: true }
];

function makeTrajectory(p) {
  const padTop = 48, axW = 60, axH = 80, padR = 8;
  const left = p.L - axW, top = p.T - padTop;
  const w = p.R - p.L + axW + padR, h = p.B - p.T + padTop + axH;
  const cv = addCanvas(left, top, w, h);
  const color = clusterColors[p.key];
  const thin = p.lines.map(arr => ({
    data: arr.map((v, i) => ({ x: i, y: v })), borderColor: rgba(color, 0.4), borderWidth: 0.85,
    pointRadius: 0, tension: 0, order: 1, spanGaps: false
  }));
  const mean = {
    data: p.mean.map((v, i) => ({ x: i, y: v })), borderColor: color, borderWidth: 6,
    pointRadius: 0, cubicInterpolationMode: 'monotone', order: 0
  };
  const textPlugin = {
    id: 'panelText',
    afterDraw(chart) {
      const ctx = chart.ctx, a = chart.chartArea, xs = chart.scales.x;
      ctx.save();
      ctx.fillStyle = INK;
      ctx.textBaseline = 'middle';
      ctx.font = `18px ${FONT}`;
      ctx.textAlign = 'center';
      ctx.fillText(p.title, p.titleX - left, p.titleY - top);
      ctx.textAlign = p.tag.align;
      ctx.fillText(p.tissue, p.tag.x - left, p.tag.y - top);
      ctx.textAlign = p.tag2.align;
      ctx.fillText(p.cluster, p.tag2.x - left, p.tag2.y - top);
      // y axis title
      ctx.save();
      ctx.translate(p.L - 32 - left, (p.T + p.B) / 2 - top);
      ctx.rotate(-Math.PI / 2);
      ctx.textAlign = 'center';
      ctx.font = `14px ${FONT}`;
      ctx.fillText('NPX', 0, 0);
      ctx.restore();
      // break between postnatal and postmenstrual time points
      const bx = (xs.getPixelForValue(4) + xs.getPixelForValue(5)) / 2, by = a.bottom;
      ctx.fillStyle = '#fff';
      ctx.fillRect(bx - 4, by - 2, 7, 4);
      ctx.strokeStyle = '#222';
      ctx.lineWidth = 1;
      ctx.beginPath();
      ctx.moveTo(bx - 6.5, by + 4); ctx.lineTo(bx - 2, by - 5);
      ctx.moveTo(bx - 1, by + 4); ctx.lineTo(bx + 3.5, by - 5);
      ctx.stroke();
      ctx.restore();
    }
  };
  new Chart(cv, {
    type: 'line',
    data: { datasets: [mean, ...thin] },
    options: {
      responsive: false, animation: false, devicePixelRatio: 1,
      layout: { padding: { left: 0, top: padTop, right: padR, bottom: 0 } },
      plugins: { legend: { display: false }, tooltip: { enabled: false } },
      scales: {
        x: {
          type: 'linear', min: p.xMin, max: p.xMax,
          afterBuildTicks: s => { s.ticks = timeLabels.map((_, i) => ({ value: i })); },
          afterFit: s => { s.height = axH; s.paddingLeft = 0; s.paddingRight = 0; },
          ticks: { autoSkip: false, maxRotation: 45, minRotation: 45, padding: 2, color: '#1a1a1a',
            font: { family: FONT, size: 17 }, callback: v => (p.showX ? timeLabels[v] : '') },
          grid: { drawOnChartArea: false, drawTicks: true, tickLength: 5, tickColor: '#222', lineWidth: 1 },
          border: { display: true, color: '#222', width: 1 }
        },
        y: {
          type: 'linear', min: p.yMin, max: p.yMax,
          afterBuildTicks: s => { s.ticks = p.yTicks.map(v => ({ value: v })); },
          afterFit: s => { s.width = axW; s.paddingTop = 0; s.paddingBottom = 0; },
          ticks: { padding: 3, color: '#1a1a1a', font: { family: FONT, size: 14 } },
          grid: { drawOnChartArea: false, drawTicks: true, tickLength: 5, tickColor: '#222', lineWidth: 1 },
          border: { display: true, color: '#222', width: 1 }
        }
      }
    },
    plugins: [textPlugin]
  });
}

trajectoryPanels.forEach(makeTrajectory);
</script>
</body>
</html>
